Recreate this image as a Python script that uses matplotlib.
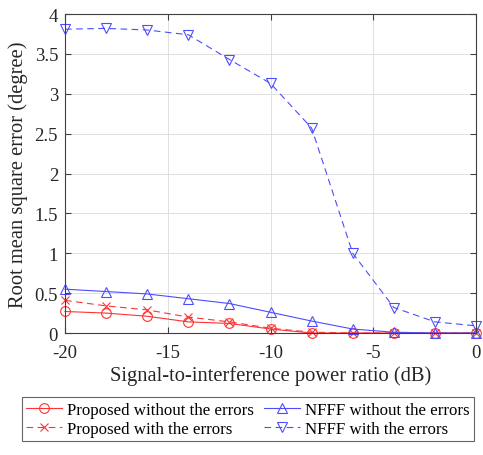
import matplotlib.pyplot as plt
import numpy as np

plt.rcParams["font.family"] = ["Liberation Serif", "DejaVu Serif"]
plt.rcParams["axes.unicode_minus"] = False

sir_db = [-20, -18, -16, -14, -12, -10, -8, -6, -4, -2, 0]
prop_no_err = [0.27, 0.25, 0.21, 0.14, 0.12, 0.05, 0.0, 0.0, 0.0, 0.0, 0.0]
prop_err = [0.41, 0.34, 0.29, 0.20, 0.14, 0.06, 0.01, 0.0, 0.0, 0.0, 0.0]
nfff_no_err = [0.55, 0.52, 0.49, 0.43, 0.37, 0.26, 0.15, 0.05, 0.01, 0.0, 0.0]
nfff_err = [3.81, 3.82, 3.80, 3.74, 3.43, 3.13, 2.57, 1.00, 0.32, 0.14, 0.09]

labels = [
    "Proposed without the errors",
    "Proposed with the errors",
    "NFFF without the errors",
    "NFFF with the errors",
]

RED = "#ff3333"
BLUE = "#4d4dff"

fig = plt.figure(figsize=(4.83, 4.56), dpi=100)
ax = fig.add_axes([0.1346, 0.2675, 0.851, 0.6995])

ms = 7.5
common = dict(lw=0.8, mew=0.8, clip_on=False)
ax.plot(sir_db, prop_no_err, "-", color=RED, marker="o", ms=7,
        mfc="none", label=labels[0], **common)
ax.plot(sir_db, prop_err, "--", color=RED, marker="x", ms=6,
        label=labels[1], dashes=(6, 4), **common)
ax.plot(sir_db, nfff_no_err, "-", color=BLUE, marker="^", ms=ms,
        mfc="none", label=labels[2], **common)
ax.plot(sir_db, nfff_err, "--", color=BLUE, marker="v", ms=ms,
        mfc="none", label=labels[3], dashes=(6, 4), **common)

ax.set_xlim(-20, 0)
ax.set_ylim(0, 4)
ax.set_xticks([-20, -15, -10, -5, 0])
ax.set_yticks([0, 0.5, 1, 1.5, 2, 2.5, 3, 3.5, 4])
ax.set_yticklabels(["0", "0.5", "1", "1.5", "2", "2.5", "3", "3.5", "4"])
ax.grid(True, color="#e0e0e0", lw=0.7)
ax.set_axisbelow(True)
ax.tick_params(direction="in", top=True, right=True, length=4,
               labelsize=13.5, color="#404040", labelcolor="#262626")
ax.tick_params(axis="x", pad=8)
ax.tick_params(axis="y", pad=5)
for sp in ax.spines.values():
    sp.set_color("#404040")
    sp.set_linewidth(0.8)

ax.set_xlabel("Signal-to-interference power ratio (dB)", fontsize=14.8,
              color="#262626", labelpad=3)
ax.set_ylabel("Root mean square error (degree)", fontsize=14.8,
              color="#262626", labelpad=5)

leg = fig.legend(loc="lower center", bbox_to_anchor=(0.513, 0.03), ncol=2,
                 fontsize=12.2, frameon=True, fancybox=False, edgecolor="#404040",
                 handlelength=2.1, columnspacing=0.6, handletextpad=0.3,
                 borderpad=0.25, labelspacing=0.2, borderaxespad=0)
leg.get_frame().set_linewidth(0.8)

fig.savefig("out.png", dpi=100)
